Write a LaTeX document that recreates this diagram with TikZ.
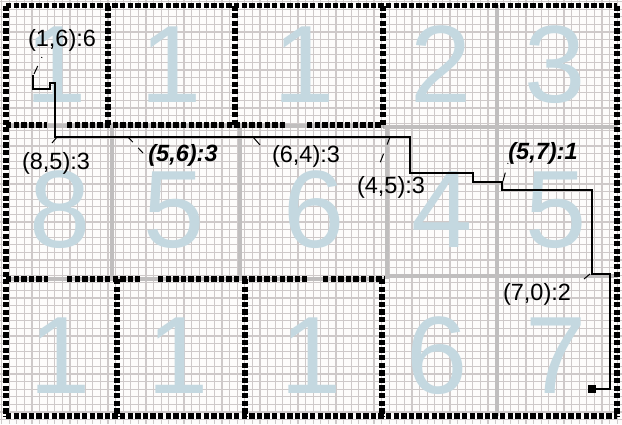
\documentclass[tikz,border=0pt]{standalone}
\usepackage{fontspec}
\setmainfont{Liberation Sans}
\definecolor{digitblue}{RGB}{196,216,224}
\definecolor{finegrid}{RGB}{206,201,201}
\definecolor{cellgray}{RGB}{192,190,190}
\definecolor{paper}{RGB}{253,252,251}
\begin{document}
\begin{tikzpicture}[x=1pt,y=-1pt,
  bigdigit/.style={font=\fontsize{110}{110}\selectfont, text=digitblue, anchor=base, inner sep=0pt},
  lbl/.style={font=\fontsize{23.5}{23.5}\selectfont, inner sep=0pt},
  lblb/.style={inner sep=0pt, font=\fontsize{23.5}{23.5}\selectfont\bfseries\itshape},
  border/.style={line width=5.5pt, dash pattern=on 5.3pt off 2.3pt},
  cellline/.style={line width=4pt, cellgray},
  route/.style={line width=2.2pt, line join=miter},
  leader/.style={line width=1pt},
  fine/.style={finegrid, line width=1.2pt}]
\useasboundingbox (0,0) rectangle (622,424);
\fill[paper] (0,0) rectangle (622,424);
% fine grid
\foreach \i in {0,...,81} {\draw[fine] ({1.5+\i*7.6},0) -- ({1.5+\i*7.6},424);}
\foreach \j in {0,...,55} {\draw[fine] (0,{1.5+\j*7.6}) -- (622,{1.5+\j*7.6});}
% gray cell lines
\draw[cellline] (497,5) -- (497,416);
\draw[cellline] (112,125) -- (112,279);
\draw[cellline] (240,125) -- (240,279);
\draw[cellline] (387,125) -- (387,279);
\draw[cellline] (6,125.5) -- (383,125.5);
\draw[cellline] (383,127) -- (617,127);
\draw[cellline] (6,279) -- (385,279);
\draw[cellline] (385,276) -- (617,276);
% big digits
\node[bigdigit] (d11) at (56,102) {1};
\node[bigdigit] (d12) at (171,102) {1};
\node[bigdigit] (d13) at (304,102) {1};
\node[bigdigit] (d14) at (441,102) {2};
\node[bigdigit] (d15) at (555,102) {3};
\node[bigdigit] (d21) at (60,247) {8};
\node[bigdigit] (d22) at (174,247) {5};
\node[bigdigit] (d23) at (314,247) {6};
\node[bigdigit] (d24) at (442,247) {4};
\node[bigdigit] (d25) at (556,247) {5};
\node[bigdigit] (d31) at (60,393) {1};
\node[bigdigit] (d32) at (178,393) {1};
\node[bigdigit] (d33) at (311,393) {1};
\node[bigdigit] (d34) at (437,393) {6};
\node[bigdigit] (d35) at (556,393) {7};
% black dashed borders
\draw[border] (6,5.5) -- (617,5.5);
\draw[border] (6,5.5) -- (6,416);
\draw[border] (617,5.5) -- (617,416);
\draw[border] (6,416) -- (617,416);
\draw[border] (108,5.5) -- (108,125);
\draw[border] (235,5.5) -- (235,125);
\draw[border] (383,5.5) -- (383,125);
\draw[border] (6,125) -- (47,125);
\draw[border] (67,125) -- (285,125);
\draw[border] (307,125) -- (383,125);
\draw[border] (6,279) -- (48,279);
\draw[border] (67,279) -- (140,279);
\draw[border] (158,279) -- (307,279);
\draw[border] (323,279) -- (385,279);
\draw[border] (117,279) -- (117,416);
\draw[border] (245,279) -- (245,416);
\draw[border] (382,279) -- (382,416);
% route
\coordinate (start) at (33,75);
\node[fill=black, minimum size=8pt, inner sep=0pt] (endsq) at (592,389) {};
\draw[route] (start) -- (33,89) -- (50,89) -- (50,83) -- (55,83) -- (55,137) -- (410,137) -- (410,173) -- (473,173) -- (473,182) -- (502,182) -- (502,190) -- (592,190) -- (592,274) -- (610,274) -- (610,389) -- (endsq.center);
% labels
\node[lbl] (l1) at (62,40) {(1,6):6};
\node[lbl] (l2) at (56,163) {(8,5):3};
\node[lblb] (l3) at (183,155) {(5,6):3};
\node[lbl] (l4) at (306,156) {(6,4):3};
\node[lbl] (l5) at (391,187) {(4,5):3};
\node[lblb] (l6) at (543,153) {(5,7):1};
\node[lbl] (l7) at (537,294) {(7,0):2};
% leaders
\coordinate (a1) at (42,57); \coordinate (b1) at (34,74);
\coordinate (a2) at (52,143); \coordinate (b2) at (57,137);
\coordinate (a3) at (143,153); \coordinate (b3) at (128,137);
\coordinate (a4) at (260,145); \coordinate (b4) at (253,137);
\coordinate (a5) at (380,163); \coordinate (b5) at (390,137);
\coordinate (a6) at (508,163); \coordinate (b6) at (503,181);
\coordinate (a7) at (584,279); \coordinate (b7) at (590,274);
\draw[leader, dash pattern=on 1pt off 9pt on 9pt off 9pt] (a1) -- (b1);
\draw[leader] (a2) -- (b2);
\draw[leader, dash pattern=on 7pt off 8pt on 7pt off 8pt] (b3) -- (a3);
\draw[leader] (a4) -- (b4);
\draw[leader, dash pattern=on 8pt off 10pt on 9pt off 10pt] (b5) -- (a5);
\draw[leader, dash pattern=on 1pt off 9pt on 9pt off 9pt] (a6) -- (b6);
\draw[leader] (a7) -- (b7);
\end{tikzpicture}
\end{document}
